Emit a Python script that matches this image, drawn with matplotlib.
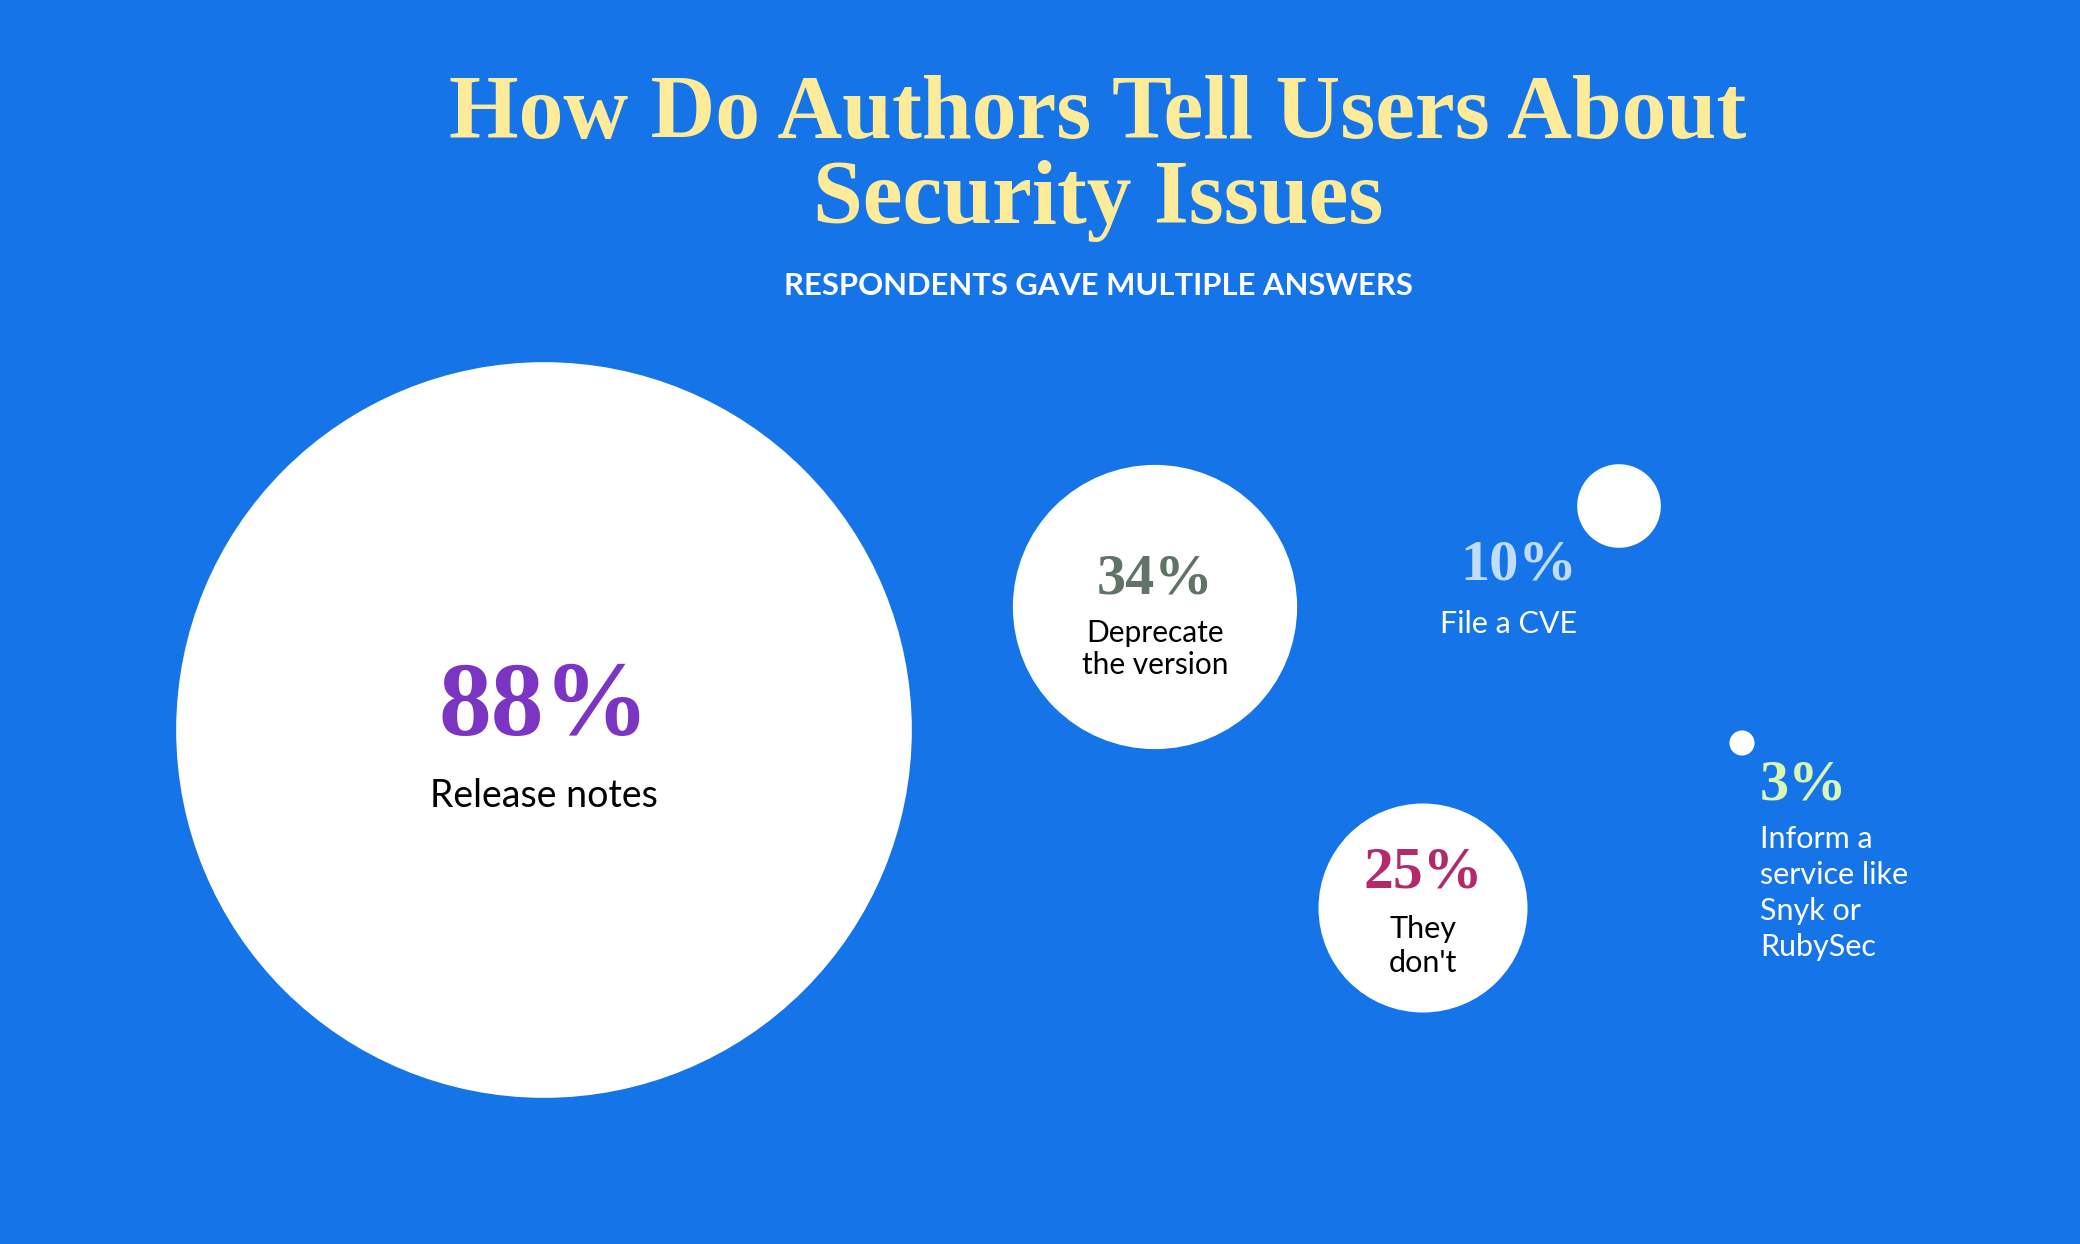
import matplotlib.pyplot as plt
from matplotlib.patches import Circle

# Survey answers (percent of respondents)
labels = ['Release notes', 'Deprecate\nthe version', "They\ndon't", 'File a CVE',
          'Inform a\nservice like\nSnyk or\nRubySec']
values = [88, 34, 25, 10, 3]
pct_colors = ['#7b35c2', '#5f7366', '#b32a6b', '#c0dcf8', '#d9f6b4']
label_colors = ['black', 'black', 'black', 'white', 'white']

title = 'How Do Authors Tell Users About\nSecurity Issues'
subtitle = 'RESPONDENTS GAVE MULTIPLE ANSWERS'

# Layout (pixel coordinates, y downwards)
cx = [544, 1155, 1423, 1619, 1742]
cy = [730, 607, 908, 506, 743]
px = [544, 1155, 1423, 1519, 1760]
pct_base = [735, 594, 888, 580, 799]
pct_size = [76, 42, 43, 42, 42]
pct_ha = ['center', 'center', 'center', 'center', 'left']
lab_x = [544, 1155, 1423, 1509, 1760]
lab_base = [807, 642, 938, 633, 848]
lab_gap = [0, 32, 34, 0, 36]
lab_size = [27, 21.5, 22, 22, 22]
radius_scale = 4.18

bg = '#1575e8'
fig = plt.figure(figsize=(20.8, 12.44), dpi=100)
fig.patch.set_facecolor(bg)
ax = fig.add_axes([0, 0, 1, 1])
ax.set_facecolor(bg)
ax.set_xlim(0, 2080)
ax.set_ylim(1244, 0)
ax.set_aspect('equal')
ax.axis('off')

# Title and subtitle
for i, line in enumerate(title.split('\n')):
    ax.text(1098, 138 + i * 85, line, ha='center', va='baseline', fontsize=64.5,
            fontweight='bold', family='Liberation Serif', color='#fdeb99')
ax.text(1098, 295, subtitle, ha='center', va='baseline', fontsize=22.3,
        fontweight='bold', family='Lato', color='white')

# Bubbles, radius proportional to value
for i in range(len(values)):
    ax.add_patch(Circle((cx[i], cy[i]), values[i] * radius_scale,
                        facecolor='white', edgecolor='none'))
    ax.text(px[i], pct_base[i], f'{values[i]}%', ha=pct_ha[i], va='baseline',
            fontsize=pct_size[i], fontweight='bold', family='Liberation Serif',
            color=pct_colors[i])
    for j, line in enumerate(labels[i].split('\n')):
        ax.text(lab_x[i], lab_base[i] + j * lab_gap[i], line, ha=pct_ha[i],
                va='baseline', fontsize=lab_size[i], family='Lato',
                color=label_colors[i])

fig.savefig('out.png', dpi=100, facecolor=bg)
